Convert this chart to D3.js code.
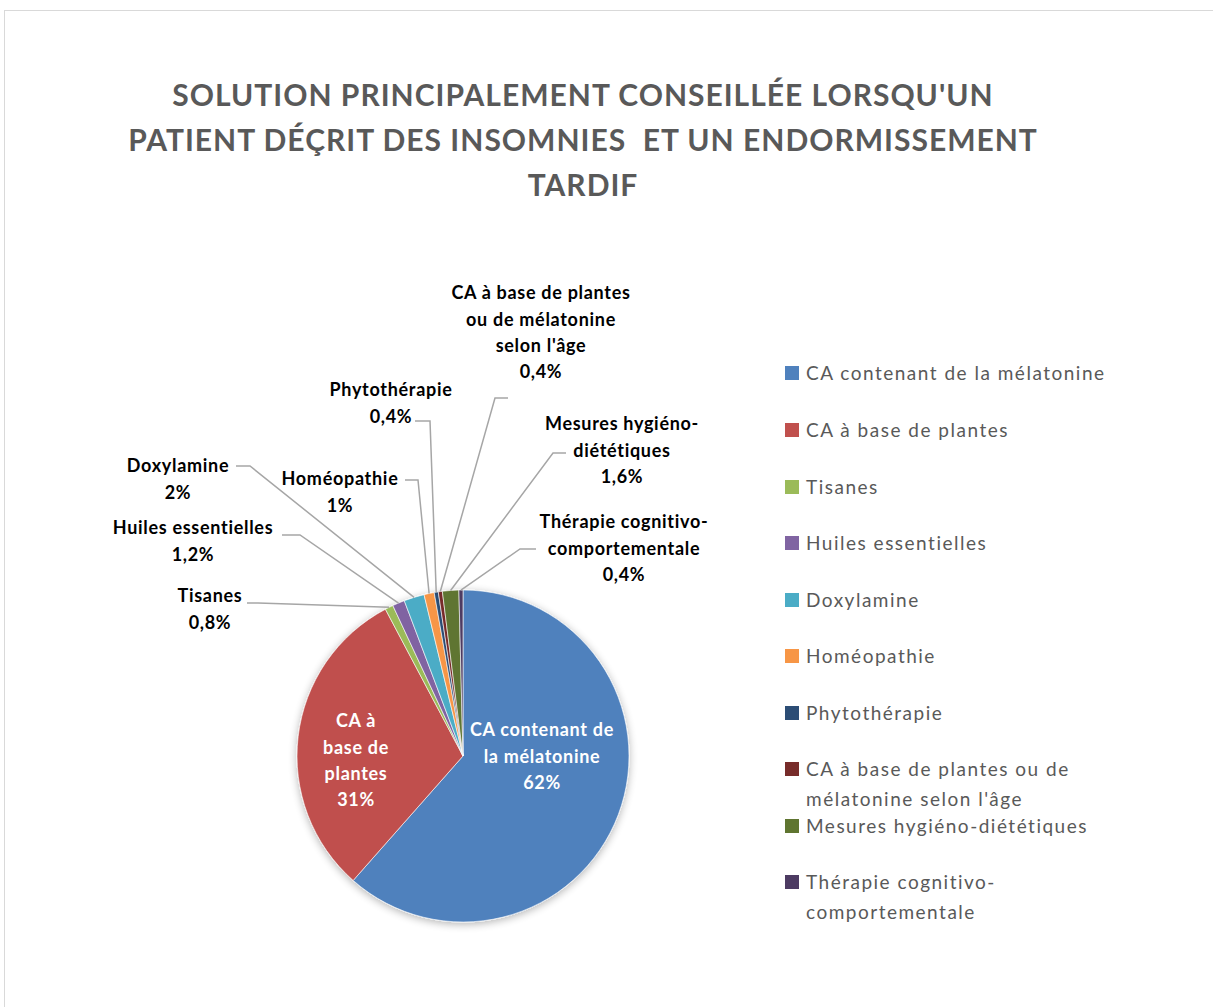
<!DOCTYPE html>
<html>
  <head>
    <meta http-equiv="Content-Type" content="text/html;charset=utf-8"/>
	<title>Solution principalement conseillée</title>
	<script src="https://cdn.jsdelivr.net/npm/d3@7"></script>
	<style>
		body { margin: 0; background: #ffffff; }
		.title {
			fill: #595959;
			font-size: 30px;
			font-weight: bold;
			letter-spacing: 1px;
			font-family: 'Lato', 'Liberation Sans', sans-serif;
		}
		.dataLabel {
			fill: #000000;
			font-size: 18px;
			font-weight: bold;
			letter-spacing: 0.7px;
			font-family: 'Lato', 'Liberation Sans', sans-serif;
		}
		.innerLabel {
			fill: #ffffff;
			font-size: 18px;
			font-weight: bold;
			letter-spacing: 0.7px;
			font-family: 'Lato', 'Liberation Sans', sans-serif;
		}
		.legendText {
			fill: #595959;
			font-size: 19px;
			letter-spacing: 1.5px;
			font-family: 'Lato', 'Liberation Sans', sans-serif;
		}
		.leader {
			fill: none;
			stroke: #a6a6a6;
			stroke-width: 1.5px;
		}
	</style>
  </head>
  <body>
	<div id="chart"></div>
    <script>

		var width = 1213, height = 1007;

		// data
		const categories = [
			"CA contenant de la mélatonine",
			"CA à base de plantes",
			"Tisanes",
			"Huiles essentielles",
			"Doxylamine",
			"Homéopathie",
			"Phytothérapie",
			"CA à base de plantes ou de mélatonine selon l'âge",
			"Mesures hygiéno-diététiques",
			"Thérapie cognitivo-comportementale"
		];
		const values = [62, 31, 0.8, 1.2, 2, 1, 0.4, 0.4, 1.6, 0.4];
		const valueLabels = ["62%", "31%", "0,8%", "1,2%", "2%", "1%", "0,4%", "0,4%", "1,6%", "0,4%"];
		const labelLines = [
			["CA contenant de", "la mélatonine"],
			["CA à", "base de", "plantes"],
			["Tisanes"],
			["Huiles essentielles"],
			["Doxylamine"],
			["Homéopathie"],
			["Phytothérapie"],
			["CA à base de plantes", "ou de mélatonine", "selon l'âge"],
			["Mesures hygiéno-", "diététiques"],
			["Thérapie cognitivo-", "comportementale"]
		];
		const legendLines = [
			["CA contenant de la mélatonine"],
			["CA à base de plantes"],
			["Tisanes"],
			["Huiles essentielles"],
			["Doxylamine"],
			["Homéopathie"],
			["Phytothérapie"],
			["CA à base de plantes ou de", "mélatonine selon l'âge"],
			["Mesures hygiéno-diététiques"],
			["Thérapie cognitivo-", "comportementale"]
		];
		const titleLines = [
			"SOLUTION PRINCIPALEMENT CONSEILLÉE LORSQU'UN",
			"PATIENT DÉÇRIT DES INSOMNIES  ET UN ENDORMISSEMENT",
			"TARDIF"
		];

		const colours = ['#4f81bd','#c0504d','#9bbb59','#8064a2','#4bacc6',
		                 '#f79646','#2c4d75','#772c2a','#5f7530','#4d3b62'];

		// layout: label positions as offsets from the pie centre (first line centre),
		// anchor = start of the leader line, elbow = bend of the leader line
		const cx = 463, cy = 756, radius = 166;
		const labelLayout = [
			{x: 79,   y: -26},
			{x: -107, y: -35},
			{x: -253, y: -160, ax: -216, ay: -153, ex: -205, ey: -153},
			{x: -270, y: -228, ax: -181, ay: -221, ex: -163, ey: -221},
			{x: -285, y: -290, ax: -227, ay: -290, ex: -213, ey: -290},
			{x: -123, y: -277, ax: -58,  ay: -276, ex: -45,  ey: -276},
			{x: -72,  y: -366, ax: -48,  ay: -335, ex: -33,  ey: -335},
			{x: 78,   y: -463, ax: 45,   ay: -358, ex: 32,   ey: -358},
			{x: 159,  y: -332, ax: 103,  ay: -303, ex: 90,   ey: -303},
			{x: 161,  y: -234, ax: 73,   ay: -207, ex: 57,   ey: -207}
		];

		var svg = d3.select("#chart").append("svg")
			.attr("width", width)
			.attr("height", height);

		// chart area border
		svg.append("rect")
			.attr("x", 4.5).attr("y", 10.5)
			.attr("width", width + 20).attr("height", height + 20)
			.attr("fill", "#ffffff")
			.attr("stroke", "#d9d9d9")
			.attr("stroke-width", 1);

		// title
		svg.append("text")
			.attr("class", "title")
			.attr("text-anchor", "middle")
		  .selectAll("tspan")
			.data(titleLines)
		  .enter().append("tspan")
			.attr("x", 583)
			.attr("y", (d, i) => 106 + i * 45)
			.attr("xml:space", "preserve")
			.text(d => d);

		// shadow
		var defs = svg.append("defs");
		var filter = defs.append("filter").attr("id", "shadow")
			.attr("x", "-20%").attr("y", "-20%").attr("width", "140%").attr("height", "140%");
		filter.append("feGaussianBlur").attr("in", "SourceAlpha").attr("stdDeviation", 4);
		filter.append("feOffset").attr("dx", 0).attr("dy", 2).attr("result", "blur");
		filter.append("feComponentTransfer").append("feFuncA").attr("type", "linear").attr("slope", 0.3);
		var merge = filter.append("feMerge");
		merge.append("feMergeNode");
		merge.append("feMergeNode").attr("in", "SourceGraphic");

		var pie = d3.pie()
			.value(d => d)
			.sort(null);
		var arcs = pie(values);

		var arc = d3.arc().innerRadius(0).outerRadius(radius);
		var edgeArc = d3.arc().innerRadius(radius).outerRadius(radius);

		var g = svg.append("g")
			.attr("transform", `translate(${cx},${cy})`);

		g.append("g")
			.attr("filter", "url(#shadow)")
		  .selectAll("path.slice")
			.data(arcs)
		  .enter().append("path")
			.attr("class", "slice")
			.attr("d", arc)
			.attr("fill", (d, i) => colours[i])
			.attr("stroke", "#ffffff")
			.attr("stroke-width", 0.6);

		// leader lines
		g.selectAll("path.leader")
			.data(arcs.filter((d, i) => labelLayout[i].ax !== undefined))
		  .enter().append("path")
			.attr("class", "leader")
			.attr("d", function(d) {
				var L = labelLayout[d.index];
				var p = edgeArc.centroid(d);
				return d3.line()([[L.ax, L.ay], [L.ex, L.ey], p]);
			});

		// data labels
		g.selectAll("text.lbl")
			.data(arcs)
		  .enter().append("text")
			.attr("class", d => d.index < 2 ? "innerLabel" : "dataLabel")
			.attr("text-anchor", "middle")
			.each(function(d) {
				var L = labelLayout[d.index];
				var lines = labelLines[d.index].concat([valueLabels[d.index]]);
				d3.select(this).selectAll("tspan")
					.data(lines)
				  .enter().append("tspan")
					.attr("x", L.x)
					.attr("y", (t, k) => L.y + k * 26.3)
					.attr("dy", "0.36em")
					.text(t => t);
			});

		// legend
		var legend = svg.append("g")
			.attr("transform", "translate(785,0)");

		var legendY = [373, 430, 487, 543, 600, 656, 713, 769, 826, 882];

		var item = legend.selectAll("g.item")
			.data(categories)
		  .enter().append("g")
			.attr("class", "item")
			.attr("transform", (d, i) => `translate(0,${legendY[i]})`);

		item.append("rect")
			.attr("x", 0).attr("y", -7)
			.attr("width", 14).attr("height", 14)
			.attr("fill", (d, i) => colours[i]);

		item.append("text")
			.attr("class", "legendText")
			.each(function(d, i) {
				d3.select(this).selectAll("tspan")
					.data(legendLines[i])
				  .enter().append("tspan")
					.attr("x", 21)
					.attr("y", (t, k) => k * 30)
					.attr("dy", "0.36em")
					.text(t => t);
			});
	</script>
  </body>
</html>
